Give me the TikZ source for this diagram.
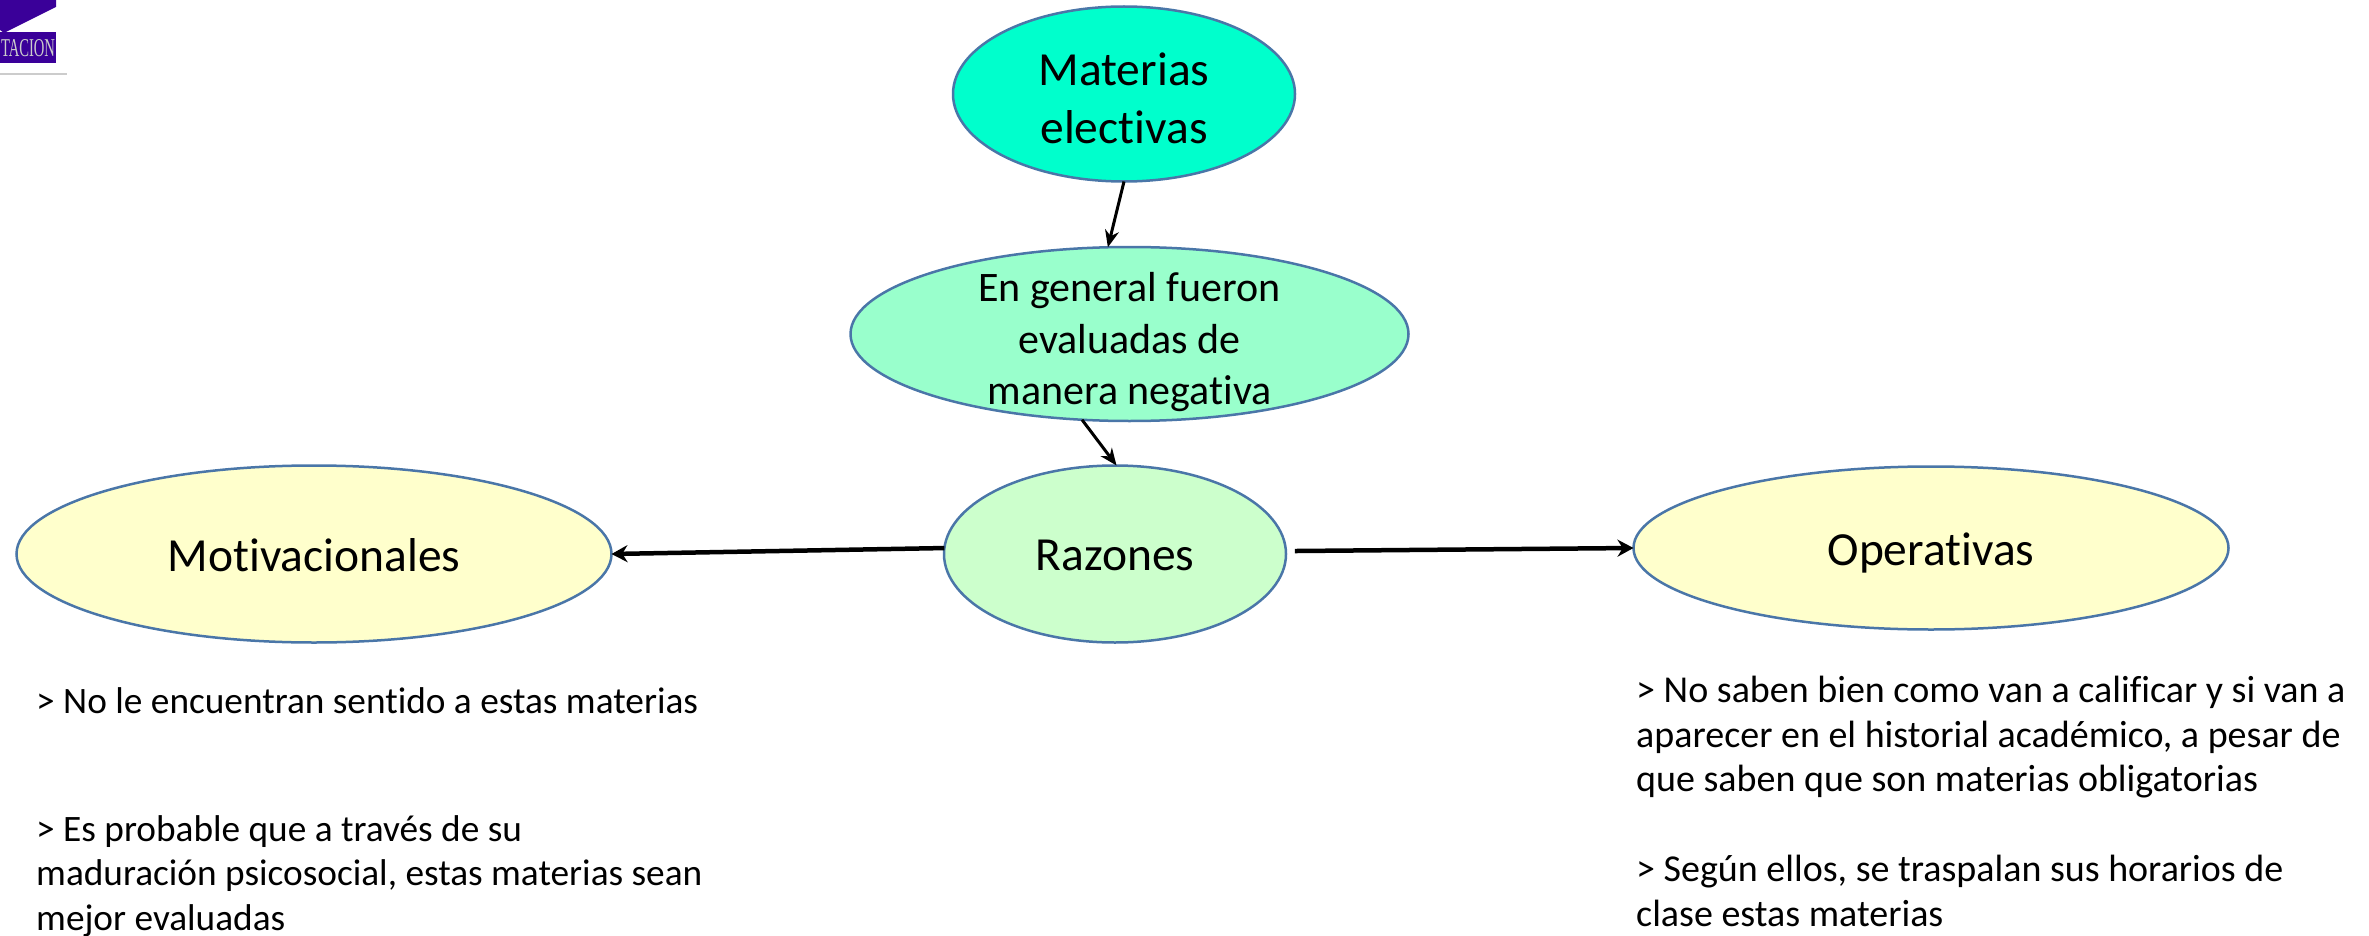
\documentclass[tikz,border=0pt]{standalone}
\usepackage{fontspec}
\usepackage{graphicx}
\setmainfont{Carlito}[Ligatures=NoCommon]
\newfontfamily\logofont{Liberation Serif}
\usetikzlibrary{shapes.geometric,arrows.meta}
\definecolor{edgeblue}{HTML}{4A76A8}
\definecolor{logopurple}{HTML}{3A0099}
\newcommand{\ctext}[2]{\vbox to 0pt{\vss\kern#1\hbox to 0pt{\hss\begin{tabular}{@{}c@{}}#2\end{tabular}\hss}\vss}}
\tikzset{
  bubble/.style={ellipse,draw=edgeblue,line width=2.5pt,inner sep=0pt,outer sep=0pt,text=black},
  big/.style={font=\fontsize{47.5}{58}\selectfont},
  mid/.style={font=\fontsize{42}{51.5}\selectfont},
  note/.style={anchor=north west,align=left,inner sep=0pt,font=\fontsize{37.3}{44.5}\selectfont},
  noter/.style={note,font=\fontsize{38}{44.5}\selectfont},
  thin arrow/.style={draw=black,line width=3pt,-{Stealth[length=17pt,width=14pt]}},
  thick arrow/.style={draw=black,line width=4.5pt,-{Stealth[length=16pt,width=17pt]}}
}
\begin{document}
\begin{tikzpicture}[x=1pt,y=-1pt]
\useasboundingbox (0,0) rectangle (2369,936);
\begin{scope}
\clip (0,0) rectangle (2369,936);
\fill[logopurple] (0,0) -- (56,0) -- (56,7) -- (4,33) -- (0,30) -- cycle;
\node[fill=logopurple,inner sep=0pt,minimum width=56pt,minimum height=31pt,text=black!20] (logo) at (28,48) {\logofont\resizebox{54pt}{17pt}{TACION}};
\draw[line width=2pt,black!20] (0,74) -- (67,74);
\end{scope}

\node[bubble,big,fill={rgb,255:red,0;green,255;blue,204},minimum width=342pt,minimum height=175pt] (mat) at (1124,94) {\ctext{18pt}{Materias\\electivas}};
\node[bubble,mid,fill={rgb,255:red,153;green,255;blue,204},minimum width=558pt,minimum height=174pt] (gen) at (1129.5,334) {\ctext{18pt}{En general fueron\\evaluadas de\\manera negativa}};
\node[bubble,big,fill={rgb,255:red,204;green,255;blue,204},minimum width=342pt,minimum height=177pt] (raz) at (1115,554) {\ctext{10pt}{Razones}};
\node[bubble,big,fill={rgb,255:red,255;green,255;blue,204},minimum width=595pt,minimum height=177pt] (mot) at (314,554) {\ctext{12pt}{Motivacionales}};
\node[bubble,big,fill={rgb,255:red,255;green,255;blue,204},minimum width=595pt,minimum height=163pt] (ope) at (1931,548) {\ctext{12pt}{Operativas}};

\draw[thin arrow] (mat.south) -- (gen.104);
\draw[thin arrow] (gen.241.9) -- (raz.89);
\draw[thick arrow] (raz.178.3) -- (mot.east);
\draw[thick arrow] ([xshift=9pt]raz.1.3) -- (ope.180.4);

\node[note] (n1) at (36,687) {> No le encuentran sentido a estas materias};
\node[note] (n2) at (36,815) {> Es probable que a través de su\\maduración psicosocial, estas materias sean\\mejor evaluadas};
\node[noter] (n3) at (1636,676) {> No saben bien como van a calificar y si van a\\aparecer en el historial académico, a pesar de\\que saben que son materias obligatorias};
\node[noter] (n4) at (1636,855) {> Según ellos, se traspalan sus horarios de\\clase estas materias};
\end{tikzpicture}
\end{document}
